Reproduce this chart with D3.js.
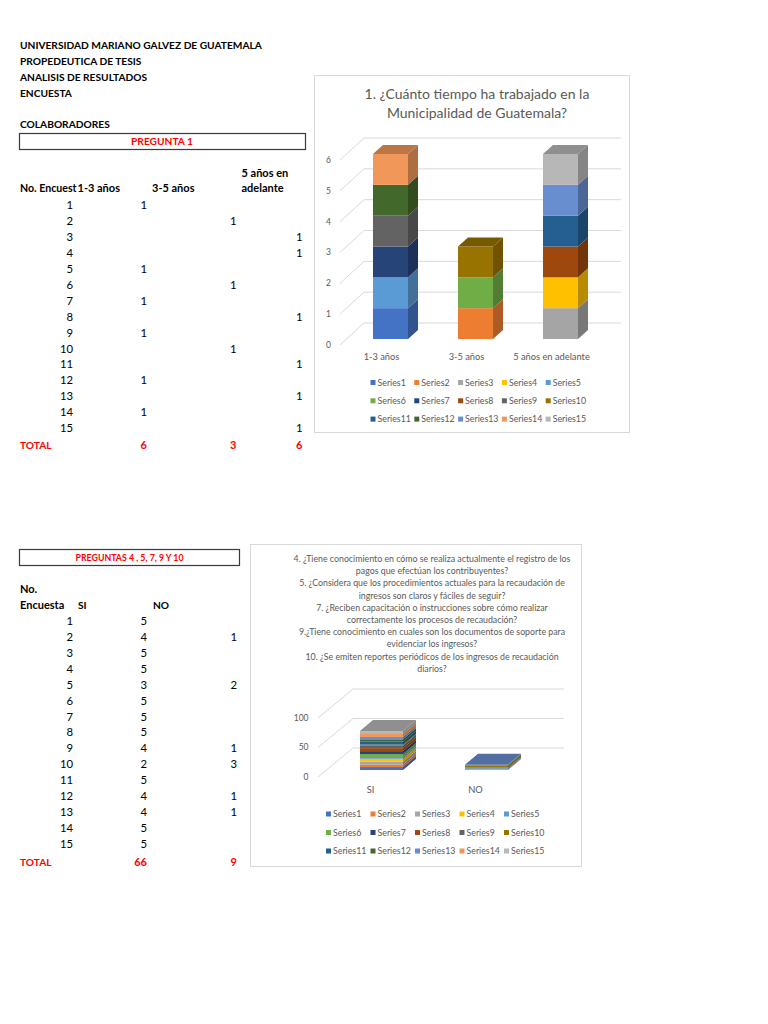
<!DOCTYPE html>
<html><head><meta charset="utf-8">
<script src="https://cdn.jsdelivr.net/npm/d3@7/dist/d3.min.js"></script>
<style>html,body{margin:0;padding:0;background:#fff}svg{display:block}</style>
</head><body>
<script>
// ---------------- DATA ----------------
const headerLines = ["UNIVERSIDAD MARIANO GALVEZ DE GUATEMALA","PROPEDEUTICA DE TESIS","ANALISIS DE RESULTADOS","ENCUESTA"];
const respondents = [1,2,3,4,5,6,7,8,9,10,11,12,13,14,15];
const seriesNames = respondents.map(d => "Series" + d);
const p1Categories = ["1-3 años","3-5 años","5 años en adelante"];
const p1Years1to3 = [1,0,0,0,1,0,1,0,1,0,0,1,0,1,0];
const p1Years3to5 = [0,1,0,0,0,1,0,0,0,1,0,0,0,0,0];
const p1Years5plus = [0,0,1,1,0,0,0,1,0,0,1,0,1,0,1];
const p1Ticks = [0,1,2,3,4,5,6];
const p1Title = ["1. ¿Cuánto tiempo ha trabajado en la","Municipalidad de Guatemala?"];
const p2Categories = ["SI","NO"];
const p2Si = [5,4,5,5,3,5,5,5,4,2,5,4,4,5,5];
const p2No = [0,1,0,0,2,0,0,0,1,3,0,1,1,0,0];
const p2Ticks = [0,50,100];
const p2Title = [
 "4. ¿Tiene conocimiento en cómo se realiza actualmente el registro de los",
 "pagos que efectúan los contribuyentes?",
 "5. ¿Considera que los procedimientos actuales para la recaudación de",
 "ingresos son claros y fáciles de seguir?",
 "7. ¿Reciben capacitación o instrucciones sobre cómo realizar",
 "correctamente los procesos de recaudación?",
 "9.¿Tiene conocimiento en cuales son los documentos de soporte para",
 "evidenciar los ingresos?",
 "10. ¿Se emiten reportes periódicos de los ingresos de recaudación",
 "diarios?"];
const seriesColors = ["#4472C4","#ED7D31","#A5A5A5","#FFC000","#5B9BD5","#70AD47","#264478","#9E480E","#636363","#997300","#255E91","#43682B","#698ED0","#F1975A","#B7B7B7"];

// ---------------- SETUP ----------------
const W = 768, H = 1024;
const svg = d3.select("body").append("svg").attr("width", W).attr("height", H);
svg.append("rect").attr("width", W).attr("height", H).attr("fill", "#fff");
const TF = "Lato, 'Open Sans', sans-serif";
const RED = "#FF0000";
const UP = 10.2;   // uppercase bold size
const MX = 11;     // mixed-case bold size

function txt(g, x, y, s, o = {}) {
  return g.append("text").attr("x", x).attr("y", y).attr("dy", "0.35em")
    .attr("font-family", o.family || TF).attr("font-size", o.size || 11.3)
    .attr("font-weight", o.weight || "normal").attr("fill", o.fill || "#000")
    .attr("text-anchor", o.anchor || "start").text(s);
}

// ---------------- LEFT TABLES ----------------
const T = svg.append("g");
headerLines.forEach((s, i) => txt(T, 20, 45 + i * 16, s, {weight: "bold", size: UP}));
txt(T, 20, 124, "COLABORADORES", {weight: "bold", size: UP});
T.append("rect").attr("x", 19.5).attr("y", 133.5).attr("width", 286).attr("height", 16)
  .attr("fill", "none").attr("stroke", "#3a3a3a").attr("stroke-width", 1.2);
txt(T, 162, 141.5, "PREGUNTA 1", {weight: "bold", fill: RED, anchor: "middle", size: UP});

const enc = txt(T, 20, 188, "No. Encuest", {weight: "bold", size: MX});
const encW = enc.node().getComputedTextLength();
if (encW > 56.5) enc.attr("textLength", 56.5).attr("lengthAdjust", "spacingAndGlyphs");
txt(T, 77.5, 188, "1-3 años", {weight: "bold", size: MX});
txt(T, 152, 188, "3-5 años", {weight: "bold", size: MX});
txt(T, 241.5, 173, "5 años en", {weight: "bold", size: MX});
txt(T, 241.5, 188, "adelante", {weight: "bold", size: MX});

const rowY1 = d3.scaleLinear().domain([1, 15]).range([205, 428.3]);
respondents.forEach((r, i) => {
  const y = rowY1(r);
  txt(T, 73, y, r, {anchor: "end"});
  if (p1Years1to3[i]) txt(T, 147, y, p1Years1to3[i], {anchor: "end"});
  if (p1Years3to5[i]) txt(T, 236.5, y, p1Years3to5[i], {anchor: "end"});
  if (p1Years5plus[i]) txt(T, 302.5, y, p1Years5plus[i], {anchor: "end"});
});
txt(T, 20, 445, "TOTAL", {weight: "bold", fill: RED, size: UP});
txt(T, 147, 445, d3.sum(p1Years1to3), {weight: "bold", fill: RED, anchor: "end", size: MX});
txt(T, 236.5, 445, d3.sum(p1Years3to5), {weight: "bold", fill: RED, anchor: "end", size: MX});
txt(T, 302.5, 445, d3.sum(p1Years5plus), {weight: "bold", fill: RED, anchor: "end", size: MX});

T.append("rect").attr("x", 19.5).attr("y", 549.5).attr("width", 220).attr("height", 16)
  .attr("fill", "none").attr("stroke", "#3a3a3a").attr("stroke-width", 1.2);
txt(T, 129.5, 557.5, "PREGUNTAS 4 , 5, 7, 9 Y 10", {weight: "bold", fill: RED, anchor: "middle", size: 8.8});
txt(T, 20, 589, "No.", {weight: "bold", size: MX});
txt(T, 20, 605, "Encuesta", {weight: "bold", size: MX});
txt(T, 78, 605, "SI", {weight: "bold", size: UP});
txt(T, 153, 605, "NO", {weight: "bold", size: UP});
const rowY2 = d3.scaleLinear().domain([1, 15]).range([621, 844]);
respondents.forEach((r, i) => {
  const y = rowY2(r);
  txt(T, 73, y, r, {anchor: "end"});
  if (p2Si[i]) txt(T, 147, y, p2Si[i], {anchor: "end"});
  if (p2No[i]) txt(T, 237, y, p2No[i], {anchor: "end"});
});
txt(T, 20, 862, "TOTAL", {weight: "bold", fill: RED, size: UP});
txt(T, 147, 862, d3.sum(p2Si), {weight: "bold", fill: RED, anchor: "end", size: MX});
txt(T, 237, 862, d3.sum(p2No), {weight: "bold", fill: RED, anchor: "end", size: MX});

// ---------------- 3D STACKED CHART ----------------
function chart3D(cfg) {
  const g = svg.append("g");
  g.append("rect").attr("x", cfg.frame[0] + 0.5).attr("y", cfg.frame[1] + 0.5)
    .attr("width", cfg.frame[2]).attr("height", cfg.frame[3])
    .attr("fill", "#fff").attr("stroke", "#d9d9d9").attr("stroke-width", 1);
  const grey = "#595959";
  cfg.title.forEach((s, i) => txt(g, cfg.titleX, cfg.titleY + i * cfg.titleStep, s,
    {size: cfg.titleSize, fill: grey, anchor: "middle"}));

  const yL = d3.scaleLinear().domain(cfg.domain).range(cfg.labelRange);
  const yF = d3.scaleLinear().domain(cfg.domain).range(cfg.frontRange);
  const x = d3.scaleBand().domain(cfg.categories).range(cfg.xRange)
    .paddingInner(cfg.padIn).paddingOuter(cfg.padIn / 2);

  // gridlines (floor slant + back wall)
  cfg.ticks.forEach(t => {
    const y0 = yL(t), y1 = y0 + cfg.wall[1];
    g.append("path").attr("d", `M${cfg.slantX0},${y0}L${cfg.slantX0 + cfg.wall[0]},${y1}H${cfg.wallEnd}`)
      .attr("fill", "none").attr("stroke", "#d9d9d9").attr("stroke-width", 1);
    txt(g, cfg.tickX, y0, t, {size: cfg.tickSize, fill: grey, anchor: "end"});
  });

  // bars
  const [dx, dy] = cfg.depth;
  cfg.categories.forEach((c, ci) => {
    const vals = cfg.values[ci];
    const x0 = x(c), x1 = x0 + x.bandwidth();
    let cum = 0, topIdx = -1;
    vals.forEach((v, si) => {
      if (!v) return;
      const a = yF(cum), b = yF(cum + v);
      const col = d3.color(cfg.colors[si]);
      g.append("rect").attr("x", x0).attr("y", b).attr("width", x1 - x0).attr("height", a - b)
        .attr("fill", col.formatHex());
      g.append("path").attr("d", `M${x1},${a}L${x1 + dx},${a + dy}L${x1 + dx},${b + dy}L${x1},${b}Z`)
        .attr("fill", col.darker(0.9).formatHex());
      cum += v; topIdx = si;
    });
    if (topIdx >= 0) {
      const b = yF(cum);
      g.append("path").attr("d", `M${x0},${b}L${x0 + dx},${b + dy}L${x1 + dx},${b + dy}L${x1},${b}Z`)
        .attr("fill", d3.color(cfg.colors[topIdx]).darker(0.7).formatHex());
    }
    txt(g, x0 + x.bandwidth() / 2 + cfg.catShift, cfg.catY, c, {size: cfg.catSize, fill: grey, anchor: "middle"});
  });

  // legend
  seriesNames.forEach((s, i) => {
    const col = i % 5, row = Math.floor(i / 5);
    const lx = cfg.legX + col * cfg.legStep, ly = cfg.legY + row * cfg.legRowStep;
    g.append("rect").attr("x", lx - 2.5).attr("y", ly - 2.5).attr("width", 5).attr("height", 5)
      .attr("fill", cfg.colors[i]);
    txt(g, lx + 4.5, ly, s, {size: cfg.legSize, fill: grey});
  });
}

chart3D({
  frame: [314, 75, 315, 357],
  title: p1Title, titleX: 477, titleY: 94, titleStep: 19.5, titleSize: 14,
  domain: [0, 6], labelRange: [345, 160], frontRange: [339, 154],
  ticks: p1Ticks, tickX: 331, tickSize: 8.5,
  slantX0: 340, wall: [24, -22], wallEnd: 621,
  categories: p1Categories, xRange: [348, 603], padIn: 0.588,
  values: [p1Years1to3, p1Years3to5, p1Years5plus],
  colors: seriesColors, depth: [10, -9],
  catY: 357, catShift: -9, catSize: 9.3,
  legX: 373, legStep: 43.8, legY: 382.5, legRowStep: 18.3, legSize: 8.8
});
chart3D({
  frame: [250, 544, 331, 322],
  title: p2Title, titleX: 432, titleY: 559, titleStep: 12.2, titleSize: 8.8,
  domain: [0, 100], labelRange: [777, 718], frontRange: [770, 711],
  ticks: p2Ticks, tickX: 308.5, tickSize: 8.5,
  slantX0: 318, wall: [35, -29], wallEnd: 564,
  categories: p2Categories, xRange: [329, 539], padIn: 0.59,
  values: [p2Si, p2No],
  colors: seriesColors, depth: [13, -11],
  catY: 790, catShift: -11, catSize: 9.3,
  legX: 328.5, legStep: 44.5, legY: 814, legRowStep: 18.5, legSize: 8.8
});
</script>
</body></html>
